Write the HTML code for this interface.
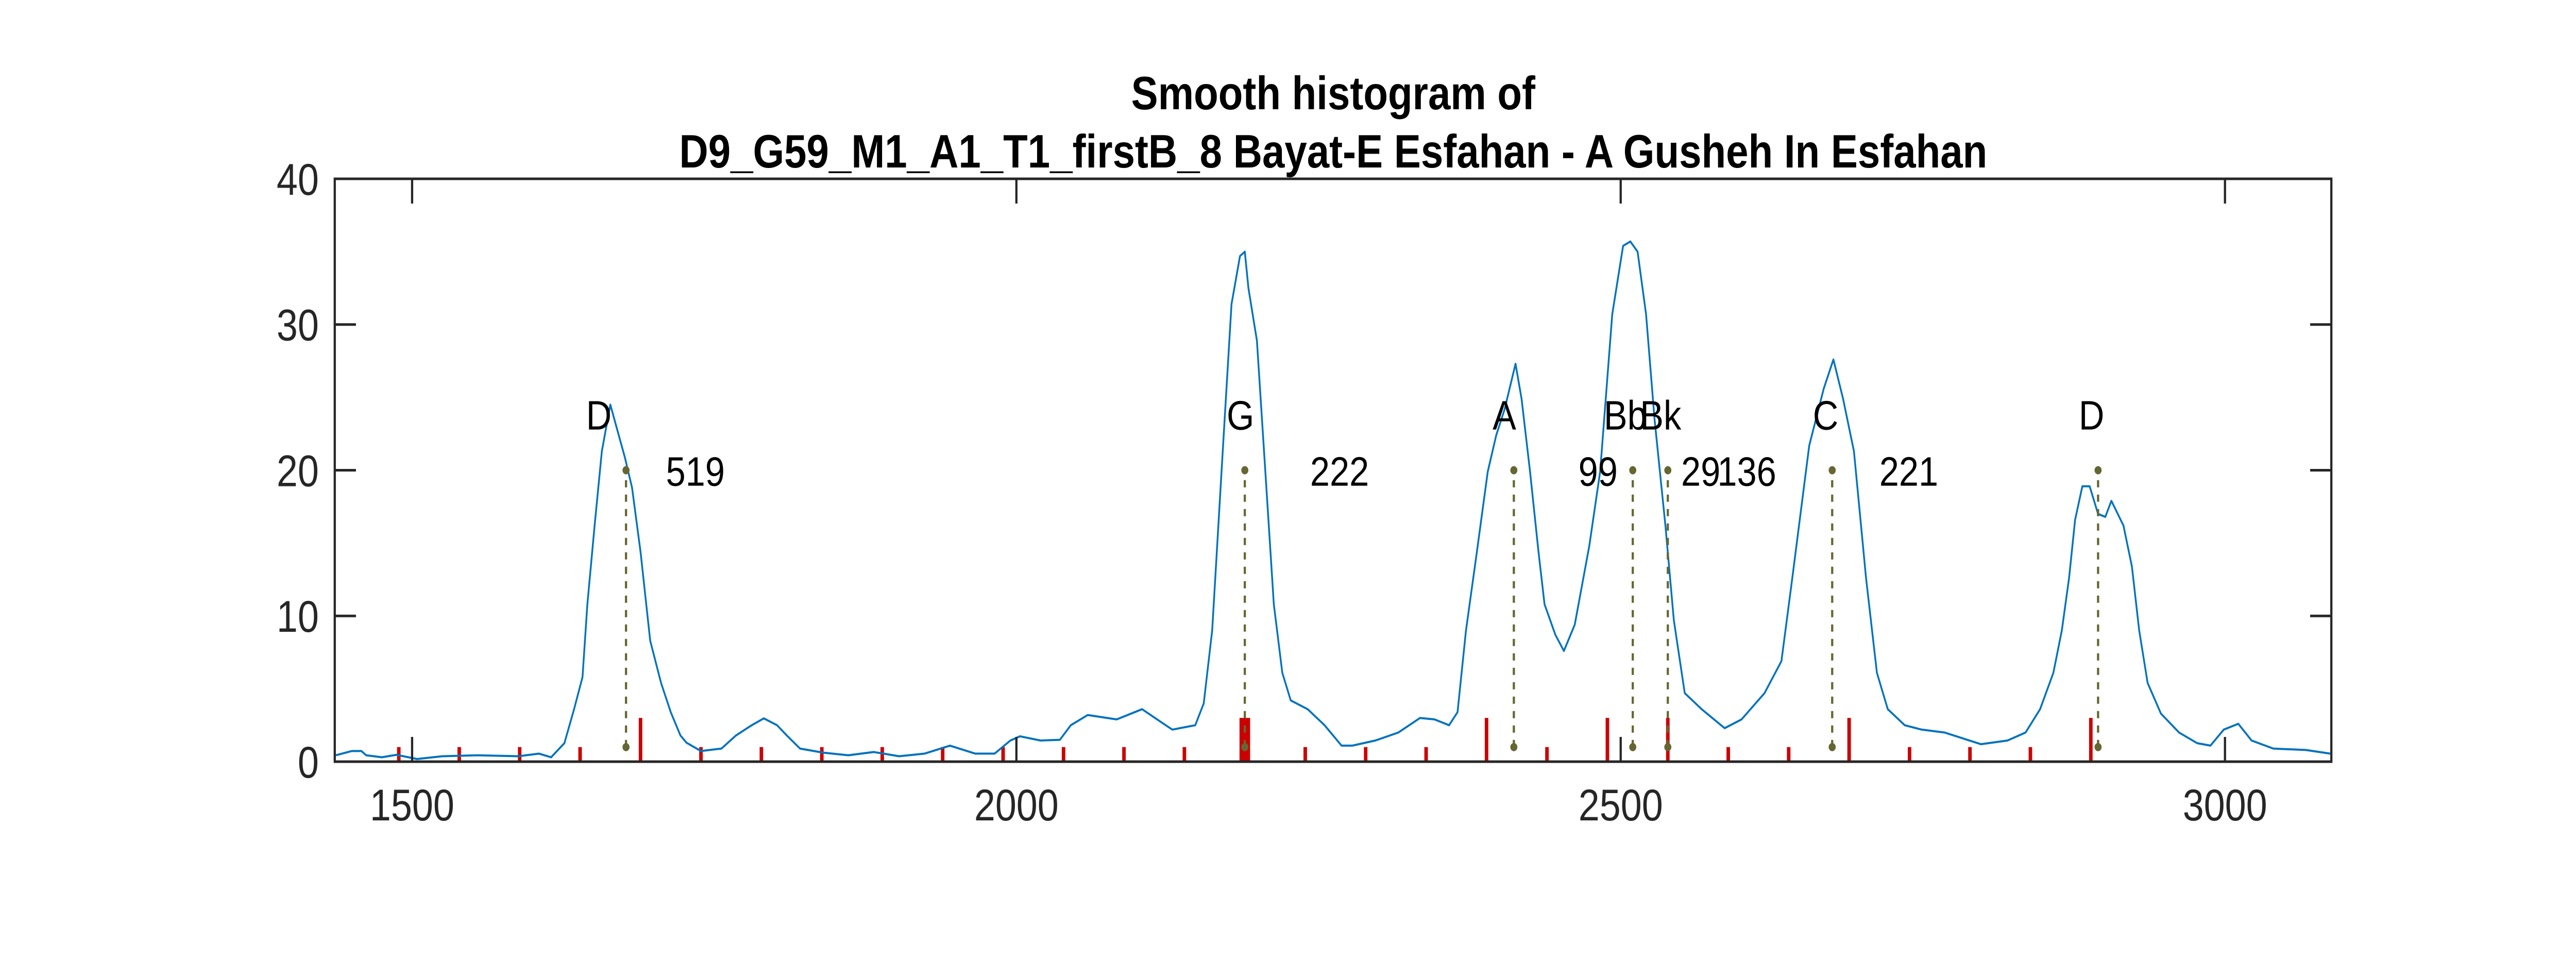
<!DOCTYPE html>
<html><head><meta charset="utf-8"><style>
html,body{margin:0;padding:0;background:#fff;width:100%;height:100%;overflow:hidden;}
svg{display:block;width:100vw;height:100vh;}
text{font-family:"Liberation Sans",Arial,sans-serif;}
</style></head><body>
<svg id="chart" xmlns="http://www.w3.org/2000/svg" viewBox="0 0 5833 1892" preserveAspectRatio="none">
<rect width="5833" height="1892" fill="#fff"/>
<text x="3019" y="212" text-anchor="middle" font-size="91" font-weight="bold" fill="#000">Smooth histogram of</text>
<text x="3019" y="325" text-anchor="middle" font-size="91" font-weight="bold" fill="#000">D9_G59_M1_A1_T1_firstB_8 Bayat-E Esfahan - A Gusheh In Esfahan</text>
<g id="plot"></g>
</svg>
<script>
const curveX=[1437,1450,1458,1462,1475,1487,1504,1525,1554,1588,1605,1615,1626,1634,1641,1645,1651,1657,1664,1670,1676,1682,1689,1697,1706,1714,1722,1727,1739,1756,1768,1781,1791,1802,1810,1821,1840,1861,1882,1903,1924,1945,1966,1982,1995,2003,2020,2036,2045,2059,2083,2104,2120,2129,2148,2155,2162,2171,2178,2185,2189,2192,2199,2206,2213,2220,2227,2241,2255,2269,2278,2297,2316,2334,2346,2358,2365,2372,2381,2390,2397,2404,2413,2418,2425,2432,2437,2446,2453,2462,2474,2483,2493,2502,2508,2514,2521,2528,2537,2544,2553,2567,2586,2600,2619,2633,2642,2656,2668,2676,2684,2693,2703,2712,2721,2735,2749,2768,2798,2820,2835,2847,2858,2865,2871,2876,2882,2888,2895,2901,2906,2916,2923,2929,2936,2947,2962,2977,2988,2999,3011,3022,3040,3067,3087];
const curveY=[0.44,0.73,0.73,0.44,0.3,0.47,0.18,0.37,0.44,0.37,0.55,0.3,1.27,3.6,5.8,10.8,16.2,21.3,24.5,22.7,20.9,18.8,14.4,8.3,5.4,3.4,1.8,1.3,0.73,0.9,1.8,2.5,2.97,2.5,1.8,0.9,0.62,0.44,0.66,0.37,0.55,1.1,0.55,0.55,1.45,1.74,1.45,1.5,2.5,3.2,2.9,3.6,2.7,2.2,2.5,4.0,9.0,21.7,31.4,34.7,35.0,32.5,28.9,19.9,10.8,6.1,4.2,3.6,2.5,1.1,1.1,1.45,2.0,3.0,2.9,2.5,3.4,9.0,14.4,19.9,22.4,24.2,27.3,24.9,19.9,14.4,10.8,8.7,7.6,9.4,14.8,19.9,30.7,35.4,35.7,35.0,30.7,23.5,16.2,9.7,4.7,3.6,2.3,2.9,4.7,6.9,12.6,21.7,25.6,27.6,24.9,21.3,12.6,6.1,3.6,2.5,2.2,2.0,1.2,1.45,2.0,3.6,6.1,9.0,12.6,16.6,18.9,18.9,17.0,16.8,17.9,16.2,13.4,9.0,5.4,3.3,2.0,1.27,1.1,2.2,2.6,1.45,0.9,0.8,0.55];
const stemX=[1489,1539,1589,1639,1689,1739,1789,1839,1889,1939,1989,2039,2089,2139,2189,2239,2289,2339,2389,2439,2489,2539,2589,2639,2689,2739,2789,2839,2889];
const stemH=[1,1,1,1,3,1,1,1,1,1,1,1,1,1,3,1,1,1,3,1,3,3,1,1,3,1,1,1,3];
const stemThick=[0,0,0,0,0,0,0,0,0,0,0,0,0,0,1,0,0,0,0,0,0,0,0,0,0,0,0,0,0];
const noteNames=["D","G","A","Bb","Bk","C","D"];
const noteLineX=[1677,2189,2411.6,2510,2539,2675,2895];
const noteLabelX=[1644,2174,2394,2486,2516,2659,2879];
const countLabels=["519","222","99","29","136","221"];
const countX=[1710,2243,2465,2550,2580,2714];
const xTicks=[1500,2000,2500,3000];
const yTicks=[0,10,20,30,40];

const L=758,R=5279,T=347,B=1478,XMIN=1436,XMAX=3088,YMIN=0,YMAX=40;
const sx=v=>L+(v-XMIN)/(XMAX-XMIN)*(R-L);
const sy=v=>B-(v-YMIN)/(YMAX-YMIN)*(B-T);
const NS="http://www.w3.org/2000/svg";
const g=document.getElementById('plot');
function mk(tag,attrs){const e=document.createElementNS(NS,tag);for(const k in attrs)e.setAttribute(k,attrs[k]);g.appendChild(e);return e;}

stemX.forEach((v,i)=>{
  const e=mk('line',{x1:sx(v),x2:sx(v),y1:sy(0),y2:sy(stemH[i]),stroke:'#cc0000','stroke-width':stemThick[i]?24:8});
  
  
});
const pts=curveX.map((v,i)=>sx(v).toFixed(1)+','+sy(curveY[i]).toFixed(1)).join(' ');
const pl=mk('polyline',{points:pts,fill:'none',stroke:'#0072bd','stroke-width':4,'stroke-linejoin':'round'});


noteLineX.forEach((v,i)=>{
  const ln=mk('line',{x1:sx(v),x2:sx(v),y1:sy(1),y2:sy(20),stroke:'#666633','stroke-width':5,'stroke-dasharray':'14 14'});
  
  
  [1,20].forEach(yv=>{
    const c=mk('circle',{cx:sx(v),cy:sy(yv),r:8,fill:'#666633'});
    
    
  });
  const t=mk('text',{x:sx(noteLabelX[i]),y:sy(24)+34,'font-size':80,fill:'#000'});
  t.textContent=noteNames[i];
  
  
});
countLabels.forEach((s,i)=>{
  const t=mk('text',{x:sx(countX[i]),y:sy(20)+30,'font-size':80,fill:'#000'});
  t.textContent=s;
  
  
});
const box=mk('rect',{x:L,y:T,width:R-L,height:B-T,fill:'none',stroke:'#262626','stroke-width':5});


xTicks.forEach(v=>{
  const x=sx(v);
  const a=mk('line',{x1:x,x2:x,y1:B,y2:B-48,stroke:'#262626','stroke-width':5});
  
  
  const b=mk('line',{x1:x,x2:x,y1:T,y2:T+48,stroke:'#262626','stroke-width':5});
  
  
  const t=mk('text',{x:x,y:1592,'text-anchor':'middle','font-size':86,fill:'#262626'});
  t.textContent=v;
  
  
});
yTicks.forEach(v=>{
  const y=sy(v);
  const a=mk('line',{x1:L,x2:L+48,y1:y,y2:y,stroke:'#262626','stroke-width':5});
  
  
  const b=mk('line',{x1:R,x2:R-48,y1:y,y2:y,stroke:'#262626','stroke-width':5});
  
  
  const t=mk('text',{x:722,y:y+31,'text-anchor':'end','font-size':86,fill:'#262626'});
  t.textContent=v;
  
  
});
</script>
</body></html>
